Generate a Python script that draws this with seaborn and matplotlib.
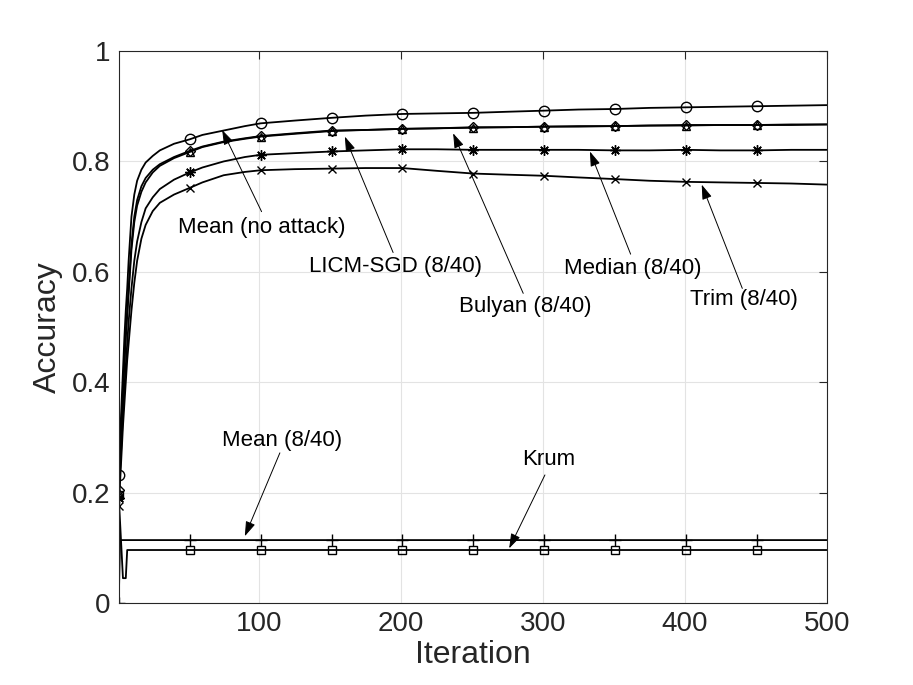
import matplotlib
matplotlib.use('Agg')
import matplotlib.pyplot as plt
import seaborn as sns

iters = [1, 2, 3, 4, 5, 6, 7, 8, 10, 12, 14, 17, 20, 25, 30, 40, 51, 60, 75, 90,
         101, 125, 151, 175, 201, 225, 251, 275, 301, 325, 351, 375, 401, 425, 451, 475, 500]

acc_mean_clean = [0.232, 0.30, 0.36, 0.42, 0.48, 0.53, 0.57, 0.62, 0.70, 0.74, 0.765, 0.785, 0.798,
                  0.810, 0.820, 0.832, 0.840, 0.848, 0.856, 0.864, 0.869, 0.874, 0.879, 0.883, 0.886,
                  0.887, 0.888, 0.890, 0.892, 0.894, 0.895, 0.897, 0.898, 0.899, 0.900, 0.901, 0.902]
acc_licm = [0.205, 0.27, 0.33, 0.39, 0.44, 0.49, 0.53, 0.57, 0.65, 0.70, 0.73, 0.755, 0.770,
            0.785, 0.795, 0.808, 0.819, 0.827, 0.836, 0.842, 0.846, 0.851, 0.856, 0.857, 0.859,
            0.860, 0.862, 0.862, 0.863, 0.864, 0.864, 0.865, 0.866, 0.866, 0.866, 0.867, 0.867]
acc_bulyan = [0.200, 0.26, 0.32, 0.38, 0.43, 0.48, 0.52, 0.56, 0.64, 0.69, 0.72, 0.745, 0.762,
              0.780, 0.792, 0.806, 0.817, 0.826, 0.835, 0.841, 0.845, 0.850, 0.855, 0.857, 0.859,
              0.860, 0.861, 0.862, 0.863, 0.863, 0.864, 0.865, 0.865, 0.866, 0.866, 0.866, 0.867]
acc_median = [0.190, 0.24, 0.29, 0.34, 0.39, 0.43, 0.47, 0.51, 0.57, 0.62, 0.655, 0.69, 0.715,
              0.735, 0.750, 0.767, 0.780, 0.789, 0.800, 0.808, 0.812, 0.815, 0.818, 0.820, 0.822,
              0.822, 0.821, 0.821, 0.821, 0.821, 0.820, 0.820, 0.821, 0.820, 0.820, 0.821, 0.821]
acc_trim = [0.175, 0.22, 0.27, 0.32, 0.36, 0.40, 0.44, 0.47, 0.53, 0.58, 0.62, 0.66, 0.685,
            0.710, 0.725, 0.740, 0.752, 0.762, 0.775, 0.781, 0.784, 0.786, 0.787, 0.788, 0.788,
            0.783, 0.778, 0.776, 0.774, 0.771, 0.768, 0.765, 0.763, 0.762, 0.761, 0.760, 0.758]

krum_iters = [1, 4, 6, 7, 51, 101, 151, 201, 251, 301, 351, 401, 451, 500]
acc_krum = [0.195, 0.045, 0.045, 0.096, 0.096, 0.096, 0.096, 0.096, 0.096, 0.096, 0.096,
            0.096, 0.096, 0.096]

mean_att_iters = [1, 2, 51, 101, 151, 201, 251, 301, 351, 401, 451, 500]
acc_mean_attack = [0.0, 0.114, 0.114, 0.114, 0.114, 0.114, 0.114, 0.114, 0.114, 0.114,
                   0.114, 0.114]

labels = ['Mean (no attack)', 'LICM-SGD (8/40)', 'Bulyan (8/40)', 'Median (8/40)',
          'Trim (8/40)', 'Mean (8/40)', 'Krum']

sns.set_style('white')
plt.rcParams['font.family'] = ['Liberation Sans', 'DejaVu Sans']

fig = plt.figure(figsize=(9.13, 6.85), dpi=100)
ax = fig.add_axes([0.130, 0.1197, 0.7755, 0.8058])


def marks(xs):
    # markers every 50 iterations starting at 1
    return [i for i, v in enumerate(xs) if (v - 1) % 50 == 0]


series = [
    (iters, acc_mean_clean, 'o', 7.5),
    (iters, acc_licm, 'D', 5.5),
    (iters, acc_bulyan, '^', 6),
    (iters, acc_median, (8, 2, 0), 7.5),   # matlab-style asterisk
    (iters, acc_trim, 'x', 6),
    (mean_att_iters, acc_mean_attack, '+', 8),
    (krum_iters, acc_krum, 's', 5.5),
]
for xs, ys, m, ms in series:
    sns.lineplot(x=xs, y=ys, ax=ax, color='k', lw=1.3, marker=m, markersize=ms,
                 markevery=marks(xs), markerfacecolor='none', markeredgecolor='k',
                 markeredgewidth=1.0)

# annotation arrows: (label, head, tail, text centre)
notes = [
    ('Mean (no attack)', (73.9, 0.857), (101.7, 0.709), (101.9, 0.681)),
    ('LICM-SGD (8/40)', (160.4, 0.845), (194.4, 0.635), (196.3, 0.609)),
    ('Bulyan (8/40)', (236.7, 0.851), (286.1, 0.561), (287.8, 0.537)),
    ('Median (8/40)', (333.1, 0.818), (361.8, 0.632), (363.6, 0.606)),
    ('Trim (8/40)', (411.9, 0.758), (440.5, 0.570), (441.8, 0.550)),
    ('Mean (8/40)', (89.9, 0.121), (114.6, 0.272), (116.3, 0.295)),
    ('Krum', (276.2, 0.099), (301.4, 0.232), (303.7, 0.260)),
]
for lab, head, tail, txt in notes:
    ax.annotate('', xy=head, xytext=tail,
                arrowprops=dict(arrowstyle='-|>,head_length=0.9,head_width=0.3',
                                color='k', lw=0.7, shrinkA=0, shrinkB=0))
    ax.text(txt[0], txt[1], lab, ha='center', va='center', fontsize=16, color='k')

ax.set_xlim(1, 500)
ax.set_ylim(0, 1)
ax.set_xticks([100, 200, 300, 400, 500])
ax.set_yticks([0, 0.2, 0.4, 0.6, 0.8, 1])
ax.set_yticklabels(['0', '0.2', '0.4', '0.6', '0.8', '1'])
ax.grid(True, color='#e3e3e3', lw=0.8)
ax.set_axisbelow(True)
for sp in ax.spines.values():
    sp.set_visible(True)
    sp.set_color('#262626')
    sp.set_linewidth(0.8)
ax.tick_params(direction='in', top=True, right=True, length=6, width=0.8,
               colors='#262626', labelsize=20, pad=6)
ax.set_xlabel('Iteration', fontsize=23, color='#262626', labelpad=2)
ax.set_ylabel('Accuracy', fontsize=23, color='#262626', labelpad=6)

fig.savefig('out.png', dpi=100)
